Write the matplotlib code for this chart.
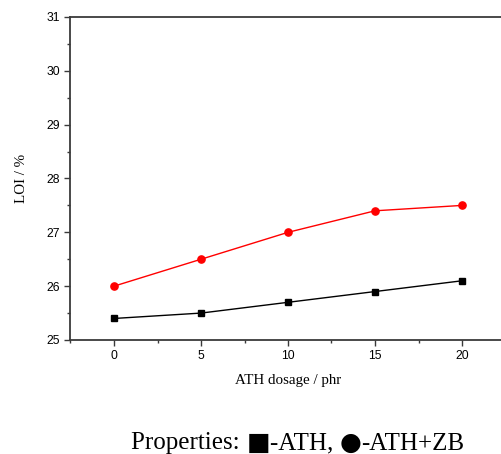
import matplotlib
matplotlib.use("Agg")
import matplotlib.pyplot as plt
from matplotlib.ticker import MultipleLocator

dosage = [0, 5, 10, 15, 20]
loi_ath = [25.4, 25.5, 25.7, 25.9, 26.1]
loi_ath_zb = [26.0, 26.5, 27.0, 27.4, 27.5]
x_ticks = [0, 5, 10, 15, 20]
y_ticks = [25, 26, 27, 28, 29, 30, 31]

fig = plt.figure(figsize=(5.02, 4.54), dpi=100)
ax = fig.add_axes([70.5 / 502, 1 - 340 / 454, (505.5 - 70.5) / 502, (340 - 17) / 454])

ax.plot(dosage, loi_ath, color="black", lw=1.0, marker="s", ms=4.6, mfc="black", mec="black")
ax.plot(dosage, loi_ath_zb, color="red", lw=1.0, marker="o", ms=5.2, mfc="red", mec="red")

ax.set_xlim(-2.5, 22.5)
ax.set_ylim(25, 31)
ax.set_xticks(x_ticks)
ax.set_yticks(y_ticks)
ax.xaxis.set_minor_locator(MultipleLocator(2.5))
ax.yaxis.set_minor_locator(MultipleLocator(0.5))

ax.spines["right"].set_visible(False)
for s in ["left", "top", "bottom"]:
    ax.spines[s].set_linewidth(1.3)
    ax.spines[s].set_color("#3a3a3a")

ax.tick_params(which="major", direction="out", length=4.5, width=1.0, color="#3a3a3a",
               labelsize=8.7, pad=3)
ax.tick_params(which="minor", direction="out", length=2.5, width=1.0, color="#3a3a3a")
for lbl in ax.get_xticklabels() + ax.get_yticklabels():
    lbl.set_fontfamily(["Liberation Sans", "DejaVu Sans"])

ax.set_xlabel("ATH dosage / phr", fontfamily="Liberation Serif", fontsize=10.8, labelpad=8)
ax.set_ylabel("LOI / %", fontfamily="Liberation Serif", fontsize=10.8, labelpad=13)

# Caption built from pieces so the square/circle glyphs can be sized separately
serif = dict(family="Liberation Serif", fontsize=18)
sym = dict(family="DejaVu Sans", fontsize=18)
pieces = [("Properties: ", serif), ("\u25A0", sym), ("-ATH, ", serif),
          ("\u25CF", sym), ("-ATH+ZB", serif)]
renderer = fig.canvas.get_renderer()
texts = []
widths = []
for s, kw in pieces:
    t = fig.text(0, 0, s, va="baseline", ha="left", **kw)
    w = t.get_window_extent(renderer).width
    texts.append(t)
    widths.append(w)
total = sum(widths)
x0 = 298 - total / 2
baseline_px = 454 - 449.5
for t, w in zip(texts, widths):
    t.set_position((x0 / 502, baseline_px / 454))
    x0 += w

fig.savefig("out.png", dpi=100)
